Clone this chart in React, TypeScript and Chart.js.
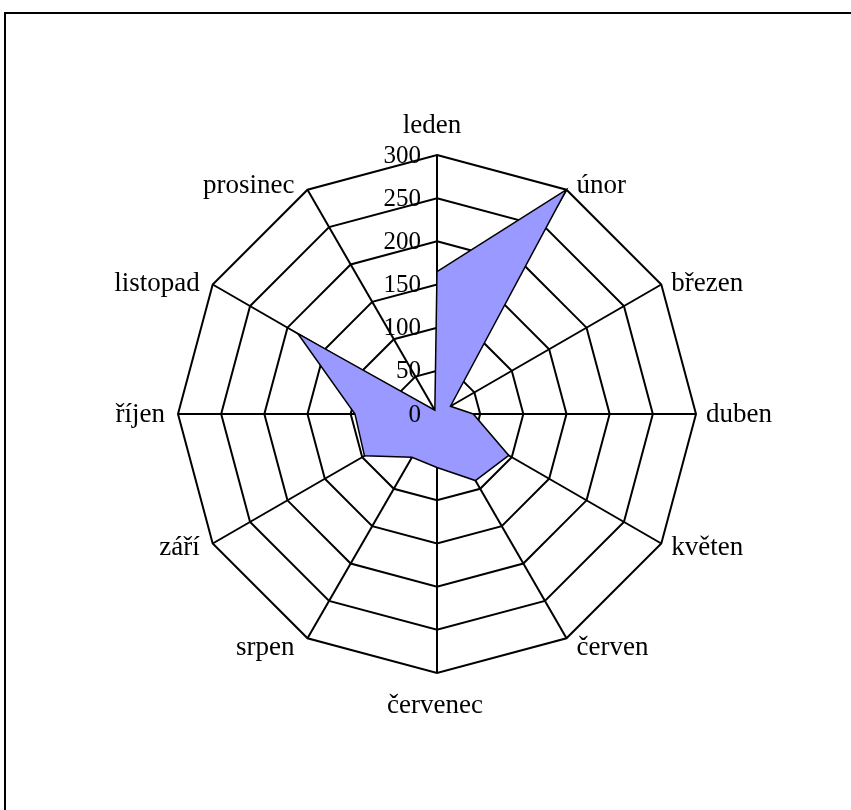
import React, { useEffect, useRef } from "react";
import { Chart, registerables } from "chart.js";

Chart.register(...registerables);

const categories = ["leden", "únor", "březen", "duben", "květen", "červen", "červenec", "srpen", "září", "říjen", "listopad", "prosinec"];
const values = [165, 300, 18, 42, 96, 89, 62, 58, 97, 95, 186, 5];
const tickValues = [0, 50, 100, 150, 200, 250, 300];

const FONT = "'Liberation Serif', 'Times New Roman', serif";

const labelPlugin = {
  id: "excelLabels",
  afterDraw(chart: any) {
    const scale = chart.scales.r;
    const ctx = chart.ctx;
    const r = scale.drawingArea;
    ctx.save();
    ctx.fillStyle = "#000";
    // tick labels, right-aligned left of the first axis
    ctx.font = `25px ${FONT}`;
    ctx.textAlign = "right";
    ctx.textBaseline = "middle";
    for (const v of tickValues) {
      const d = scale.getDistanceFromCenterForValue(v);
      ctx.fillText(String(v), scale.xCenter - 16, scale.yCenter - d + 1);
    }
    // category labels
    ctx.font = `27px ${FONT}`;
    const labels: string[] = chart.data.labels;
    labels.forEach((lab, i) => {
      const outer = scale.getPointPosition(i, r);
      const dx = outer.x - scale.xCenter;
      const dy = outer.y - scale.yCenter;
      if (Math.abs(dx) < 1) {
        ctx.textAlign = "center";
        ctx.textBaseline = "alphabetic";
        if (dy < 0) ctx.fillText(lab, outer.x - 5, outer.y - 22);
        else ctx.fillText(lab, outer.x - 2, outer.y + 40);
      } else {
        const left = dx < 0;
        ctx.textAlign = left ? "right" : "left";
        ctx.textBaseline = "middle";
        let vOff = 1;
        if (Math.abs(dy) > 1) {
          const steep = Math.abs(dy) / r > 0.7;
          vOff = dy < 0 ? (steep ? -4 : -1) : steep ? 10 : 4;
        }
        ctx.fillText(lab, outer.x + (left ? -13 : 10), outer.y + vOff);
      }
    });
    ctx.restore();
  },
};

export default function App() {
  const ref = useRef<HTMLCanvasElement | null>(null);
  useEffect(() => {
    if (!ref.current) return;
    const chart = new Chart(ref.current, {
      type: "radar",
      data: {
        labels: categories,
        datasets: [
          {
            data: values,
            backgroundColor: "#9999FF",
            borderColor: "#000",
            borderWidth: 1.5,
            pointRadius: 0,
            tension: 0,
            fill: true,
          },
        ],
      },
      options: {
        animation: false,
        responsive: false,
        maintainAspectRatio: false,
        devicePixelRatio: 1,
        layout: { padding: { left: 178, right: 155, top: 155, bottom: 137 } },
        plugins: { legend: { display: false }, tooltip: { enabled: false } },
        scales: {
          r: {
            min: 0,
            max: 300,
            ticks: { stepSize: 50, display: false },
            grid: { color: "#000", lineWidth: 2 },
            angleLines: { color: "#000", lineWidth: 2 },
            pointLabels: { display: false },
          },
        },
      },
      plugins: [labelPlugin],
    });
    return () => chart.destroy();
  }, []);
  return (
    <div style={{ position: "fixed", left: 0, top: 0, width: 851, height: 810, overflow: "hidden", background: "#fff" }}>
      <div style={{ position: "absolute", left: 4, top: 12, width: 900, height: 900, border: "2px solid #000", boxSizing: "border-box" }} />
      <canvas ref={ref} width={851} height={810} style={{ position: "absolute", left: 0, top: 0 }} />
    </div>
  );
}
